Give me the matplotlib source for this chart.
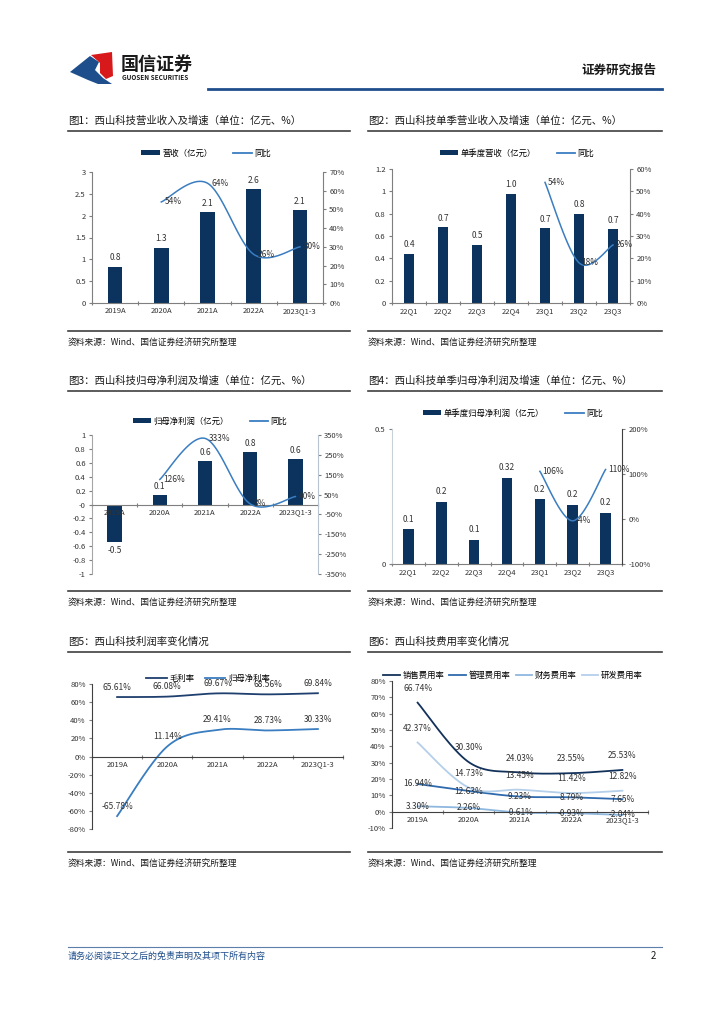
import numpy as np
import matplotlib
matplotlib.use('Agg')
import matplotlib.pyplot as plt
from matplotlib.patches import Patch, Polygon
from matplotlib.lines import Line2D

plt.rcParams['font.family'] = ['Noto Sans CJK SC', 'DejaVu Sans']
plt.rcParams['axes.unicode_minus'] = False

W, H = 724, 1024
NAVY = '#0b335e'
BLUE = '#3a7dc0'
GREY = '#333333'

# ---- data ----
years = ['2019A', '2020A', '2021A', '2022A', '2023Q1-3']
quarters = ['22Q1', '22Q2', '22Q3', '22Q4', '23Q1', '23Q2', '23Q3']

rev = [0.83, 1.27, 2.08, 2.61, 2.12]
rev_lbl = ['0.8', '1.3', '2.1', '2.6', '2.1']
rev_yoy = [54, 64, 26, 30]          # 2020A..2023Q1-3

qrev = [0.44, 0.68, 0.52, 0.98, 0.67, 0.80, 0.66]
qrev_lbl = ['0.4', '0.7', '0.5', '1.0', '0.7', '0.8', '0.7']
qrev_yoy = [54, 18, 26]             # 23Q1..23Q3

np_ = [-0.54, 0.14, 0.62, 0.76, 0.65]
np_lbl = ['-0.5', '0.1', '0.6', '0.8', '0.6']
np_yoy = [126, 333, 3, 40]

qnp = [0.13, 0.23, 0.09, 0.32, 0.24, 0.22, 0.19]
qnp_lbl = ['0.1', '0.2', '0.1', '0.32', '0.2', '0.2', '0.2']
qnp_yoy = [106, -4, 110]

gross = [65.61, 66.08, 69.67, 68.56, 69.84]
netm = [-65.78, 11.14, 29.41, 28.73, 30.33]

sell = [66.74, 30.30, 24.03, 23.55, 25.53]
admin = [16.94, 12.63, 9.23, 8.79, 7.65]
fin = [3.30, 2.26, -0.61, -0.93, -2.04]
rd = [42.37, 14.73, 13.45, 11.42, 12.82]


def smooth(x, y, n=40):
    # excel-like smoothed line (catmull-rom through the points)
    pts = np.column_stack([x, y]).astype(float)
    P = np.vstack([pts[0], pts, pts[-1]])
    out = []
    t = np.linspace(0, 1, n)[:, None]
    for i in range(1, len(P) - 2):
        p0, p1, p2, p3 = P[i - 1], P[i], P[i + 1], P[i + 2]
        seg = 0.5 * (2 * p1 + (-p0 + p2) * t + (2 * p0 - 5 * p1 + 4 * p2 - p3) * t ** 2
                     + (-p0 + 3 * p1 - 3 * p2 + p3) * t ** 3)
        out.append(seg)
    s = np.vstack(out)
    return s[:, 0], s[:, 1]


fig = plt.figure(figsize=(W / 100, H / 100), dpi=100)


def ax_px(l, t, r, b):
    return fig.add_axes([l / W, 1 - b / H, (r - l) / W, (b - t) / H])


def style_axes(ax, n, zero_axis=False):
    for s in ['top', 'right']:
        ax.spines[s].set_visible(False)
    ax.spines['left'].set_color('#7f7f7f')
    ax.spines['bottom'].set_color('#7f7f7f')
    ax.spines['left'].set_linewidth(0.8)
    ax.spines['bottom'].set_linewidth(0.8)
    if zero_axis:
        ax.spines['bottom'].set_position(('data', 0))
    ax.set_xlim(-0.5, n - 0.5)
    ax.set_xticks(np.arange(n + 1) - 0.5)
    ax.set_xticklabels([])
    ax.tick_params(axis='x', which='major', length=2.5, direction='inout', color='#7f7f7f')
    ax.tick_params(axis='y', length=2.5, direction='out', color='#7f7f7f',
                   labelsize=5.5, labelcolor=GREY, pad=2)


def set_cats(ax, cats):
    ax.set_xticks(np.arange(len(cats)), minor=True)
    ax.set_xticklabels(cats, minor=True)
    ax.tick_params(axis='x', which='minor', length=0, labelsize=5.5, labelcolor=GREY, pad=3)


def right_axis(ax, lo, hi, step, color='#7f7f7f'):
    ax2 = ax.twinx()
    for s in ['top', 'left', 'bottom']:
        ax2.spines[s].set_visible(False)
    ax2.spines['right'].set_color(color)
    ax2.spines['right'].set_linewidth(0.8)
    ax2.set_ylim(lo, hi)
    tk = np.arange(lo, hi + 1, step)
    ax2.set_yticks(tk)
    ax2.set_yticklabels(['%d%%' % v for v in tk])
    ax2.tick_params(axis='y', length=2.5, direction='out', color='#7f7f7f',
                    labelsize=5.5, labelcolor=GREY, pad=2)
    return ax2


def fmt(v):
    s = ('%.1f' % v).rstrip('0').rstrip('.')
    return s


def bar_leg(label, cx, cy):
    h = [Patch(facecolor=NAVY), Line2D([], [], color=BLUE, lw=1.3)]
    fig.legend(h, [label, '同比'], loc='center', bbox_to_anchor=(cx / W, 1 - cy / H),
               ncol=2, frameon=False, fontsize=6, handlelength=2.2, handleheight=0.55,
               columnspacing=2.5, handletextpad=0.3)


# ---- page frame ----
bg = fig.add_axes([0, 0, 1, 1])
bg.set_xlim(0, W)
bg.set_ylim(H, 0)
bg.axis('off')

bg.add_patch(Polygon([(70, 72), (90, 56), (99, 62), (95, 70), (103, 78), (112, 84), (98, 84), (88, 80)],
                     closed=True, color='#1f4e8c', lw=0))
bg.add_patch(Polygon([(91, 55), (112, 52), (113, 76), (106, 79), (100, 73), (100, 63)],
                     closed=True, color='#d7191c', lw=0))
bg.text(121, 64, '国信证券', fontsize=13, fontweight='bold', color='#1a1a1a', va='center')
bg.text(122, 78, 'GUOSEN SECURITIES', fontsize=4.6, fontweight='bold', color='#1a1a1a', va='center')
bg.plot([208, 662], [89, 89], color='#1f4e8c', lw=2)
bg.text(656, 70, '证券研究报告', fontsize=9, fontweight='bold', color='#1a1a1a', ha='right', va='center')

titles = [(68, 121, '图1：西山科技营业收入及增速（单位：亿元、%）'),
          (368, 121, '图2：西山科技单季营业收入及增速（单位：亿元、%）'),
          (68, 381, '图3：西山科技归母净利润及增速（单位：亿元、%）'),
          (368, 381, '图4：西山科技单季归母净利润及增速（单位：亿元、%）'),
          (68, 642, '图5：西山科技利润率变化情况'),
          (368, 642, '图6：西山科技费用率变化情况')]
for x0, y0, t in titles:
    bg.text(x0, y0, t, fontsize=7.5, color='#1a1a1a', va='center')
    bg.plot([x0, x0 + (282 if x0 < 300 else 294)], [y0 + 10, y0 + 10], color='#404040', lw=1.2)
    sy = y0 + 210
    bg.plot([x0, x0 + (282 if x0 < 300 else 294)], [sy, sy], color='#404040', lw=1.2)
    bg.text(x0, sy + 11, '资料来源：Wind、国信证券经济研究所整理', fontsize=6.3, color='#1a1a1a', va='center')

bg.plot([68, 662], [947, 947], color='#5b7fa8', lw=0.8)
bg.text(68, 956, '请务必阅读正文之后的免责声明及其项下所有内容', fontsize=6.5, color='#1f4e8c',
        style='italic', va='center')
bg.text(656, 956, '2', fontsize=7, color='#1a1a1a', ha='right', va='center')

# ---- chart 1 ----
ax = ax_px(92, 172, 323, 303)
style_axes(ax, 5)
x = np.arange(5)
ax.bar(x, rev, width=0.32, color=NAVY)
ax.set_ylim(0, 3)
ax.set_yticks(np.arange(0, 3.01, 0.5))
ax.set_yticklabels([fmt(v) for v in np.arange(0, 3.01, 0.5)])
set_cats(ax, years)
for xi, v, l in zip(x, rev, rev_lbl):
    ax.text(xi, v + 0.1, l, ha='center', va='bottom', fontsize=6, color=GREY)
ax2 = right_axis(ax, 0, 70, 10)
sx, sy = smooth(x[1:], rev_yoy)
ax2.plot(sx, sy, color=BLUE, lw=1.1)
for xi, v in zip(x[1:], rev_yoy):
    ax2.text(xi + 0.08, v, '%d%%' % v, ha='left', va='center', fontsize=6, color=GREY)
bar_leg('营收（亿元）', 206, 153)

# ---- chart 2 ----
ax = ax_px(392, 169, 630, 303)
style_axes(ax, 7)
x = np.arange(7)
ax.bar(x, qrev, width=0.32, color=NAVY)
ax.set_ylim(0, 1.2)
ax.set_yticks(np.arange(0, 1.21, 0.2))
ax.set_yticklabels([fmt(v) for v in np.arange(0, 1.21, 0.2)])
set_cats(ax, quarters)
for xi, v, l in zip(x, qrev, qrev_lbl):
    ax.text(xi, v + 0.04, l, ha='center', va='bottom', fontsize=6, color=GREY)
ax2 = right_axis(ax, 0, 60, 10)
sx, sy = smooth(x[4:], qrev_yoy)
ax2.plot(sx, sy, color=BLUE, lw=1.1)
for xi, v in zip(x[4:], qrev_yoy):
    ax2.text(xi + 0.08, v, '%d%%' % v, ha='left', va='center', fontsize=6, color=GREY)
bar_leg('单季度营收（亿元）', 517, 153)

# ---- chart 3 ----
ax = ax_px(92, 435, 318, 574)
style_axes(ax, 5, zero_axis=True)
x = np.arange(5)
ax.bar(x, np_, width=0.32, color=NAVY)
ax.set_ylim(-1, 1)
tk = np.arange(-1, 1.01, 0.2)
ax.set_yticks(tk)
ax.set_yticklabels([fmt(round(v, 1)) for v in tk])
ax.spines['left'].set_color('#a6a6a6')
set_cats(ax, years)
for xi, v, l in zip(x, np_, np_lbl):
    if v >= 0:
        ax.text(xi, v + 0.06, l, ha='center', va='bottom', fontsize=6, color=GREY)
    else:
        ax.text(xi, v - 0.06, l, ha='center', va='top', fontsize=6, color=GREY)
ax2 = right_axis(ax, -350, 350, 100, color='#b8c4d0')
sx, sy = smooth(x[1:], np_yoy)
ax2.plot(sx, sy, color=BLUE, lw=1.1)
for xi, v in zip(x[1:], np_yoy):
    ax2.text(xi + 0.08, v, '%d%%' % v, ha='left', va='center', fontsize=6, color=GREY)
bar_leg('归母净利润（亿元）', 210, 421)

# ---- chart 4 ----
ax = ax_px(392, 429, 622, 564)
style_axes(ax, 7)
x = np.arange(7)
ax.bar(x, qnp, width=0.32, color=NAVY)
ax.set_ylim(0, 0.5)
ax.set_yticks([0, 0.5])
ax.set_yticklabels(['0', '0.5'])
ax.spines['left'].set_color('#c8d0d8')
set_cats(ax, quarters)
for xi, v, l in zip(x, qnp, qnp_lbl):
    ax.text(xi, v + 0.02, l, ha='center', va='bottom', fontsize=6, color=GREY)
ax2 = right_axis(ax, -100, 200, 100, color='#404040')
sx, sy = smooth(x[4:], qnp_yoy)
ax2.plot(sx, sy, color=BLUE, lw=1.1)
for xi, v in zip(x[4:], qnp_yoy):
    ax2.text(xi + 0.08, v, '%d%%' % v, ha='left', va='center', fontsize=6, color=GREY)
bar_leg('单季度归母净利润（亿元）', 513, 413)

# ---- chart 5 ----
ax = ax_px(92, 684, 343, 829)
style_axes(ax, 5, zero_axis=True)
ax.spines['left'].set_color('#404040')
ax.spines['bottom'].set_color('#404040')
x = np.arange(5)
ax.set_ylim(-80, 80)
tk = np.arange(-80, 81, 20)
ax.set_yticks(tk)
ax.set_yticklabels(['%d%%' % v for v in tk])
set_cats(ax, years)
c5 = ['#1f3f6e', BLUE]
for ser, c in zip([gross, netm], c5):
    sx, sy = smooth(x, ser)
    ax.plot(sx, sy, color=c, lw=1.3)
    for xi, v in zip(x, ser):
        ax.text(xi, v + 6, '%.2f%%' % v, ha='center', va='bottom', fontsize=6, color=GREY)
h = [Line2D([], [], color=c, lw=1.3) for c in c5]
fig.legend(h, ['毛利率', '归母净利率'], loc='center', bbox_to_anchor=(208 / W, 1 - 678 / H),
           ncol=2, frameon=False, fontsize=6, handlelength=2.5, columnspacing=1.2, handletextpad=0.3)

# ---- chart 6 ----
ax = ax_px(392, 681, 648, 828)
style_axes(ax, 5, zero_axis=True)
ax.spines['left'].set_color('#404040')
ax.spines['bottom'].set_color('#404040')
ax.set_ylim(-10, 80)
tk = np.arange(-10, 81, 10)
ax.set_yticks(tk)
ax.set_yticklabels(['%d%%' % v for v in tk])
set_cats(ax, years)
c6 = ['#13325b', '#2e6aad', '#8fb8de', '#b4cfea']
off6 = [6, 0, 0, 6]
for ser, c, o in zip([sell, admin, fin, rd], c6, off6):
    sx, sy = smooth(x, ser)
    ax.plot(sx, sy, color=c, lw=1.3)
    for xi, v in zip(x, ser):
        ax.text(xi, v + o, '%.2f%%' % v, ha='center', va='bottom' if o else 'center',
                fontsize=6, color=GREY)
h = [Line2D([], [], color=c, lw=1.3) for c in c6]
fig.legend(h, ['销售费用率', '管理费用率', '财务费用率', '研发费用率'], loc='center',
           bbox_to_anchor=(513 / W, 1 - 675 / H), ncol=4, frameon=False, fontsize=6,
           handlelength=2.0, columnspacing=0.6, handletextpad=0.3)

fig.savefig('out.png', dpi=100)
